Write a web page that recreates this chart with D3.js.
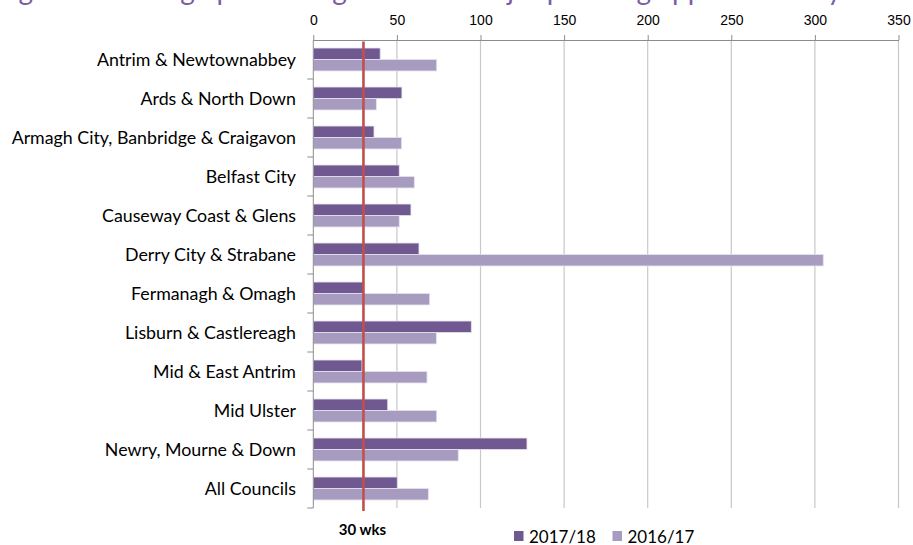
<!DOCTYPE html>
<meta charset="utf-8">
<style>
body { margin: 0; background: #fff; }
svg { display: block; font-family: Lato, "Open Sans", sans-serif; }
.grid line { stroke: #c8c8c8; stroke-width: 1.2px; }
.axis path, .axis line { stroke: #8c8c8c; }
.axis text { fill: #000; font-size: 14px; }
.cat { font-size: 17.8px; fill: #000; }
</style>
<svg width="913" height="545"></svg>
<script src="https://cdn.jsdelivr.net/npm/d3@7"></script>
<script>

// councils, top to bottom
var councils = ["Antrim & Newtownabbey", "Ards & North Down", "Armagh City, Banbridge & Craigavon",
    "Belfast City", "Causeway Coast & Glens", "Derry City & Strabane", "Fermanagh & Omagh",
    "Lisburn & Castlereagh", "Mid & East Antrim", "Mid Ulster", "Newry, Mourne & Down", "All Councils"];
var series = ["2017/18", "2016/17"];
// average processing time (weeks)
var weeks1718 = [40, 53, 36.3, 51.4, 58.4, 63.2, 30, 94.5, 29.1, 44.5, 127.8, 50.2];
var weeks1617 = [73.8, 37.7, 52.8, 60.4, 51.4, 305, 69.6, 73.6, 68, 73.8, 86.7, 68.8];
var xTicks = [0, 50, 100, 150, 200, 250, 300, 350];
var target = 30;
var targetLabel = "30 wks";
var titleText = "Figure 3: Average processing times for major planning applications by council, 2016/17 and 2017/18";

var colors = {"2017/18": "#6f5990", "2016/17": "#a89bc0"};

var svg = d3.select("svg"),
    margin = {top: 40, left: 313.3, right: 14.5, bottom: 37},
    width = +svg.attr("width"),
    height = +svg.attr("height");

var x = d3.scaleLinear()
    .domain([0, 350])
    .range([margin.left, width - margin.right]);

var y0 = d3.scaleBand()
    .domain(councils)
    .range([margin.top, height - margin.bottom]);

var y1 = d3.scaleBand()
    .domain(series)
    .range([0, y0.bandwidth()])
    .paddingOuter(0.7);

var data = councils.map(function(c, i) {
  return {council: c, values: [{s: "2017/18", v: weeks1718[i]}, {s: "2016/17", v: weeks1617[i]}]};
});

// title, cut off at the top as in the source image
svg.append("text")
   .attr("x", -4)
   .attr("y", 0)
   .style("font-family", "Lato, sans-serif")
   .style("font-size", "28px")
   .style("fill", "#7b5ea7")
   .text(titleText);

// vertical gridlines
svg.append("g")
   .attr("class", "grid")
   .selectAll("line")
   .data(xTicks.slice(1))
   .enter()
   .append("line")
   .attr("x1", function(d) { return x(d); })
   .attr("x2", function(d) { return x(d); })
   .attr("y1", margin.top)
   .attr("y2", height - margin.bottom);

// top axis
var topAxis = svg.append("g")
   .attr("class", "axis")
   .attr("transform", "translate(0," + margin.top + ")")
   .call(d3.axisTop(x).tickValues(xTicks).tickSize(5).tickSizeOuter(0).tickPadding(10));
topAxis.select(".domain").attr("stroke", "#8c8c8c");

// bars
var groups = svg.selectAll(".council")
   .data(data)
   .enter()
   .append("g")
   .attr("class", "council")
   .attr("transform", function(d) { return "translate(0," + y0(d.council) + ")"; });

groups.selectAll("rect")
   .data(function(d) { return d.values; })
   .enter()
   .append("rect")
   .attr("x", x(0))
   .attr("y", function(d) { return y1(d.s); })
   .attr("width", function(d) { return x(d.v) - x(0); })
   .attr("height", y1.bandwidth())
   .attr("fill", function(d) { return colors[d.s]; })
   .attr("stroke", "#e6e1ee")
   .attr("stroke-width", 0.8);

// left axis line with ticks between categories
var leftAxis = svg.append("g").attr("class", "axis");
leftAxis.append("line")
   .attr("x1", x(0)).attr("x2", x(0))
   .attr("y1", margin.top).attr("y2", height - margin.bottom)
   .attr("stroke", "#8c8c8c");
var bounds = councils.map(function(c) { return y0(c); }).concat([y0.range()[1]]);
leftAxis.selectAll(".btick")
   .data(bounds.slice(1))
   .enter()
   .append("line")
   .attr("class", "btick")
   .attr("x1", x(0) - 6).attr("x2", x(0))
   .attr("y1", function(d) { return d; })
   .attr("y2", function(d) { return d; })
   .attr("stroke", "#8c8c8c");

// category labels
svg.selectAll(".cat")
   .data(councils)
   .enter()
   .append("text")
   .attr("class", "cat")
   .attr("x", 296)
   .attr("y", function(d) { return y0(d) + y0.bandwidth() / 2; })
   .attr("dy", "0.35em")
   .attr("text-anchor", "end")
   .text(function(d) { return d; });

// target line
svg.append("line")
   .attr("x1", x(target)).attr("x2", x(target))
   .attr("y1", margin.top + 1.5)
   .attr("y2", height - margin.bottom + 3)
   .attr("stroke", "#c0504d")
   .attr("stroke-width", 2.6);

svg.append("text")
   .attr("x", x(target) - 1)
   .attr("y", 535)
   .attr("text-anchor", "middle")
   .style("font-size", "15px")
   .style("font-weight", "bold")
   .text(targetLabel);

// legend
var legend = svg.selectAll(".legend")
   .data(series)
   .enter()
   .append("g")
   .attr("class", "legend")
   .attr("transform", function(d, i) { return "translate(" + (514 + i * 98.5) + ",531)"; });

legend.append("rect")
   .attr("width", 9.5)
   .attr("height", 10)
   .attr("fill", function(d) { return colors[d]; });

legend.append("text")
   .attr("x", 15)
   .attr("y", 11.5)
   .style("font-size", "17px")
   .text(function(d) { return d; });

</script>
